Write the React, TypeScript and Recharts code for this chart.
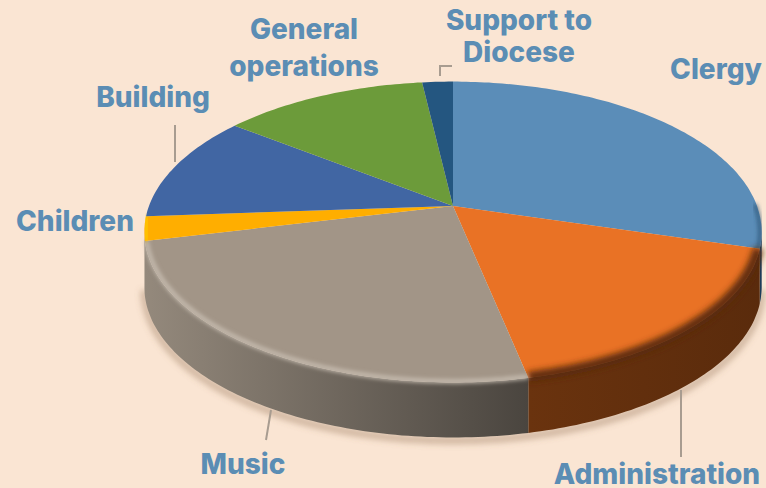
import { PieChart, Pie } from 'recharts'

const categories = ['Clergy', 'Administration', 'Music', 'Children', 'Building', 'General operations', 'Support to Diocese']
const shares = [29.5, 17.2, 24.6, 2.6, 11.5, 12.7, 1.9]
const faceColors = ['#5B8DB8', '#E97225', '#A29587', '#FFAE00', '#4166A3', '#6C9B3A', '#245680']

const data = categories.map((name, i) => ({ name, value: shares[i], fill: faceColors[i] }))

// fake 3D: tilt + a little perspective
const SQUASH = 0.48
const PERSP = 0.173
const DEPTH = 55

const wallStyles: Record<string, { from: string; to: string; rim: string; rimWidth: number; blur: string }> = {
  Clergy: { from: '#1c3d5a', to: '#1c3d5a', rim: '#2a5273', rimWidth: 3, blur: 'blur2' },
  Administration: { from: '#6a330e', to: '#5a2b0c', rim: '#5a2b0c', rimWidth: 10, blur: 'blur3' },
  Music: { from: '#94897c', to: '#4a453f', rim: '#c9bfb3', rimWidth: 4, blur: 'blur2' },
  Children: { from: '#978c7f', to: '#978c7f', rim: '#ffcb00', rimWidth: 4, blur: 'blur2' },
}

const labelLayout: Record<string, { lines: string[]; x: number; y: number; gap?: number; leader?: string }> = {
  Clergy: { lines: ['Clergy'], x: 716, y: 79 },
  Administration: { lines: ['Administration'], x: 657, y: 484, leader: 'M681 390V457' },
  Music: { lines: ['Music'], x: 243, y: 474, leader: 'M271 410L266 440' },
  Children: { lines: ['Children'], x: 75, y: 231 },
  Building: { lines: ['Building'], x: 153, y: 107, leader: 'M175 125V162' },
  'General operations': { lines: ['General', 'operations'], x: 304, y: 39, gap: 37 },
  'Support to Diocese': { lines: ['Support to', 'Diocese'], x: 519, y: 30, gap: 32, leader: 'M440 76V66H452' },
}

const project = (cx: number, cy: number, r: number, deg: number, scale = 1) => {
  const a = (deg * Math.PI) / 180
  const u = Math.cos(a) * scale
  const v = -Math.sin(a) * scale
  const w = 1 - PERSP * v
  return { x: cx + (r * u) / w, y: cy + (r * SQUASH * v) / w, v }
}

const arcPoints = (cx: number, cy: number, r: number, start: number, end: number, scale = 1) => {
  const pts = []
  const n = Math.max(2, Math.ceil(Math.abs(end - start)))
  for (let i = 0; i <= n; i++) pts.push(project(cx, cy, r, start + ((end - start) * i) / n, scale))
  return pts
}

const toPath = (pts: { x: number; y: number }[]) => pts.map((p, i) => `${i ? 'L' : 'M'}${p.x.toFixed(1)} ${p.y.toFixed(1)}`).join('')

function TiltedSector(props: any) {
  const { cx, cy, outerRadius, startAngle, endAngle, fill, name } = props
  const rim = arcPoints(cx, cy, outerRadius, startAngle, endAngle)
  const front = rim.filter(p => p.v >= PERSP)
  const style = wallStyles[name]
  const id = 'wall-' + String(name).replace(/\s/g, '')
  const wall = front.length > 1 ? toPath(front) + toPath(front.slice().reverse().map(p => ({ x: p.x, y: p.y + DEPTH }))).replace('M', 'L') + 'Z' : null
  const bevel = arcPoints(cx, cy, outerRadius, startAngle, endAngle, 0.995).filter(p => p.v > -0.02)

  return (
    <g>
      {style && (
        <defs>
          <linearGradient id={id} x1="0" y1="0" x2="1" y2="0">
            <stop offset="0%" stopColor={style.from} />
            <stop offset="100%" stopColor={style.to} />
          </linearGradient>
        </defs>
      )}
      {wall && style && <path d={wall} fill={`url(#${id})`} />}
      <path d={`M${cx} ${cy}` + toPath(rim).replace('M', 'L') + 'Z'} fill={fill} />
      {style && bevel.length > 1 && (
        <path d={toPath(bevel)} fill="none" stroke={style.rim} strokeWidth={style.rimWidth} filter={`url(#${style.blur})`} />
      )}
    </g>
  )
}

function DiscShadow({ cx, cy, r }: { cx: number; cy: number; r: number }) {
  const pts = arcPoints(cx, cy, r, 0, -180).filter(p => p.v >= PERSP).map(p => ({ x: p.x, y: p.y + DEPTH + 3 }))
  return <path d={toPath(pts)} fill="none" stroke="#8a6a4a" strokeOpacity={0.4} strokeWidth={7} filter="url(#blur3)" />
}

function renderLabel(props: any) {
  const layout = labelLayout[props.name]
  if (!layout) return null
  return (
    <g>
      {layout.leader && <path d={layout.leader} fill="none" stroke="#a89c90" strokeWidth={2} />}
      {layout.lines.map((line, i) => (
        <text key={line} x={layout.x} y={layout.y + i * (layout.gap ?? 0)} textAnchor="middle" fontFamily="Inter, sans-serif" fontWeight={800} fontSize={28} fill="#5B8DB4">
          {line}
        </text>
      ))}
    </g>
  )
}

export default function App() {
  return (
    <div style={{ position: 'absolute', left: 0, top: 0, width: 766, height: 488, background: '#FAE5D3', overflow: 'hidden' }}>
      <PieChart width={766} height={488} margin={{ top: 0, right: 0, bottom: 0, left: 0 }}>
        <defs>
          <filter id="blur2" x="-20%" y="-20%" width="140%" height="140%">
            <feGaussianBlur stdDeviation="2" />
          </filter>
          <filter id="blur3" x="-20%" y="-20%" width="140%" height="140%">
            <feGaussianBlur stdDeviation="3" />
          </filter>
        </defs>
        <DiscShadow cx={453} cy={206} r={304} />
        <Pie
          data={data}
          dataKey="value"
          nameKey="name"
          cx={453}
          cy={206}
          outerRadius={304}
          startAngle={90}
          endAngle={-270}
          stroke="none"
          shape={TiltedSector}
          label={renderLabel}
          labelLine={false}
          isAnimationActive={false}
        />
      </PieChart>
    </div>
  )
}
